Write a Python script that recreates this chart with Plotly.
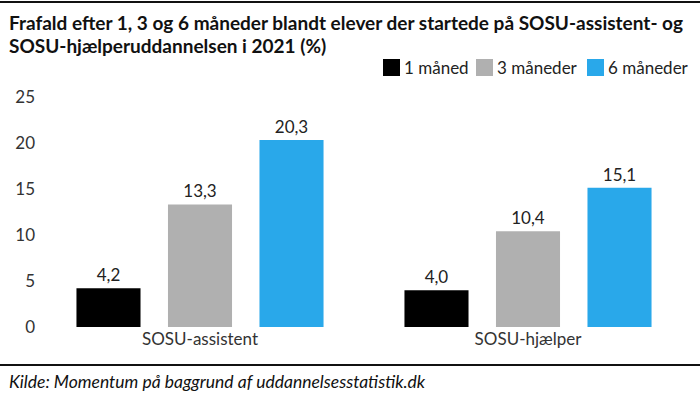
import plotly.graph_objects as go

categories = ["SOSU-assistent", "SOSU-hjælper"]
series_names = ["1 måned", "3 måneder", "6 måneder"]
values_1 = [4.2, 4.0]
values_3 = [13.3, 10.4]
values_6 = [20.3, 15.1]
colors = ["#000000", "#b0b0b0", "#29a8ea"]
y_ticks = [0, 5, 10, 15, 20, 25]
title_lines = ["Frafald efter 1, 3 og 6 måneder blandt elever der startede på SOSU-assistent- og",
               "SOSU-hjælperuddannelsen i 2021 (%)"]
source_text = "Kilde: Momentum på baggrund af uddannelsesstatistik.dk"

FONT = "Lato, 'Open Sans', sans-serif"
W, H = 700, 394
L, R, T, B = 36, 8, 92, 67
PW, PH = W - L - R, H - T - B

def px_x(px):
    return (px - L) / PW

def px_y(py):
    return (H - B - py) / PH

fig = go.Figure()
for name, vals, col in zip(series_names, [values_1, values_3, values_6], colors):
    fig.add_trace(go.Bar(
        x=categories, y=vals, name=name, marker=dict(color=col, line=dict(width=0)),
        text=[f"{v:.1f}".replace(".", ",") for v in vals],
        textposition="outside", cliponaxis=False, showlegend=False,
        textfont=dict(family=FONT, size=17, color="#222"),
    ))

fig.update_layout(
    width=W, height=H,
    margin=dict(l=L, r=R, t=T, b=B),
    paper_bgcolor="white", plot_bgcolor="white",
    barmode="group", bargap=0.163, bargroupgap=0.3,
    font=dict(family=FONT, size=17, color="#222"),
    showlegend=False,
    xaxis=dict(showline=False, ticks="", tickfont=dict(size=17, color="#333"), showgrid=False),
    yaxis=dict(range=[0, 25.5], tickvals=y_ticks, showgrid=False, zeroline=False,
               showline=False, ticks="", tickfont=dict(size=17, color="#333")),
)

# title lines
for i, line in enumerate(title_lines):
    fig.add_annotation(
        xref="paper", yref="paper", x=px_x(7), y=px_y(22.5 + 23 * i), xanchor="left", yanchor="middle",
        align="left", showarrow=False, text=f"<b>{line}</b>",
        font=dict(family=FONT, size=19, color="#111"),
    )

# manual legend
leg_sq_x = [383, 476, 587]
for name, col, sx in zip(series_names, colors, leg_sq_x):
    fig.add_shape(type="rect", xref="paper", yref="paper",
                  x0=px_x(sx), x1=px_x(sx + 17), y0=px_y(76), y1=px_y(59),
                  fillcolor=col, line=dict(width=0))
    fig.add_annotation(xref="paper", yref="paper", x=px_x(sx + 19), y=px_y(67.5),
                       xanchor="left", yanchor="middle", showarrow=False, text=name,
                       font=dict(family=FONT, size=17, color="#222"))

fig.add_annotation(
    xref="paper", yref="paper", x=px_x(7), y=px_y(381), xanchor="left", yanchor="middle",
    showarrow=False, text=f"<i>{source_text}</i>",
    font=dict(family=FONT, size=17.5, color="#111"),
)
for py in (2, 365):
    fig.add_shape(type="line", xref="paper", yref="paper", x0=px_x(0), x1=px_x(700),
                  y0=px_y(py), y1=px_y(py), line=dict(color="#111", width=2))

fig.write_html("out.html", config={"displayModeBar": False},
               post_script="document.body.style.margin='0';")
